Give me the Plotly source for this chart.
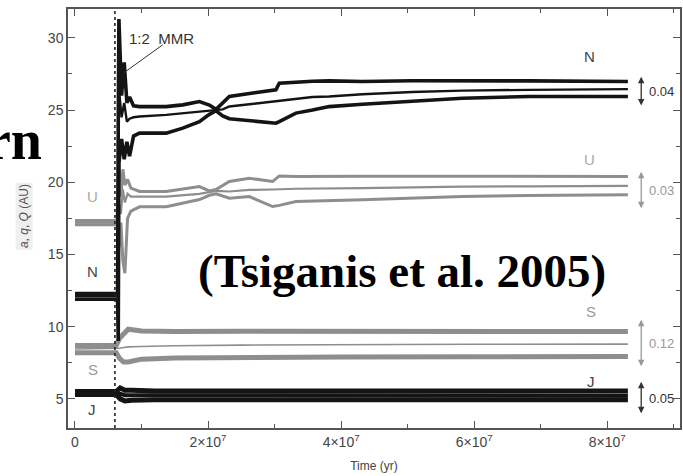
import plotly.graph_objects as go

# Orbital evolution of the giant planets: aphelion Q, semi-major axis a, perihelion q (AU)
N_t = [0, 6.4e6, 6.5e6, 6.6e6, 7.0e6, 7.4e6, 7.8e6, 8.2e6, 8.8e6, 9.7e6, 1.37e7, 1.62e7,
       1.87e7, 2.02e7, 2.12e7, 2.22e7, 2.32e7, 2.7e7, 3.02e7, 3.07e7, 3.32e7, 3.57e7,
       3.82e7, 4.32e7, 5.07e7, 5.82e7, 6.82e7, 8.31e7]
N_Q = [12.3, 12.3, 24.0, 31.3, 26.0, 28.3, 25.5, 25.9, 25.3, 25.24, 25.24, 25.36,
       25.59, 25.35, 25.05, 25.5, 25.94, 26.2, 26.4, 26.86, 26.95, 27.0,
       27.02, 26.98, 27.03, 27.0, 27.02, 26.98]
N_a = [12.1, 12.1, 14.0, 26.5, 24.5, 25.5, 24.2, 24.4, 24.5, 24.55, 24.67, 24.79,
       24.9, 24.95, 25.0, 25.05, 25.25, 25.45, 25.6, 25.65, 25.8, 25.9,
       25.94, 26.1, 26.25, 26.35, 26.4, 26.45]
N_q = [11.9, 11.9, 9.0, 21.3, 23.0, 21.6, 22.8, 21.8, 23.2, 23.4, 23.4, 23.75,
       24.2, 24.7, 24.95, 24.6, 24.4, 24.2, 24.09, 24.2, 24.79, 25.0,
       25.24, 25.4, 25.59, 25.82, 25.94, 25.94]

U_t = [0, 6.3e6, 6.6e6, 6.9e6, 7.2e6, 7.5e6, 7.9e6, 8.4e6, 9.7e6, 1.37e7, 1.87e7,
       2.02e7, 2.12e7, 2.32e7, 2.62e7, 2.97e7, 3.07e7, 3.32e7, 4.32e7, 5.82e7,
       6.82e7, 8.31e7]
U_Q = [17.35, 17.35, 21.3, 19.0, 20.9, 19.8, 20.2, 19.6, 19.36, 19.36, 19.7,
       19.4, 19.5, 20.05, 20.28, 20.05, 20.44, 20.4, 20.42, 20.4, 20.42, 20.4]
U_a = [17.2, 17.2, 18.5, 17.8, 19.5, 18.6, 19.2, 19.0, 19.0, 19.0, 19.2,
       19.3, 19.4, 19.36, 19.47, 19.5, 19.5, 19.55, 19.59, 19.7, 19.72, 19.75]
U_q = [17.05, 17.05, 15.5, 17.2, 14.5, 13.7, 17.5, 18.0, 18.3, 18.3, 18.8,
       19.1, 19.2, 18.9, 19.01, 18.32, 18.4, 18.67, 18.78, 19.01, 19.08, 19.13]

S_t = [0, 6.2e6, 6.7e6, 7.3e6, 8.0e6, 1.0e7, 1.5e7, 2.5e7, 4e7, 6e7, 8.31e7]
S_Q = [8.7, 8.7, 9.2, 9.5, 9.82, 9.7, 9.66, 9.68, 9.66, 9.67, 9.66]
S_a = [8.45, 8.45, 8.5, 8.55, 8.6, 8.62, 8.68, 8.72, 8.76, 8.78, 8.79]
S_q = [8.2, 8.2, 7.8, 7.55, 7.55, 7.75, 7.82, 7.88, 7.9, 7.92, 7.93]

J_t = [0, 6.2e6, 6.8e6, 7.5e6, 8.5e6, 1.2e7, 2.5e7, 5e7, 8.31e7]
J_Q = [5.5, 5.5, 5.75, 5.6, 5.6, 5.55, 5.55, 5.55, 5.55]
J_a = [5.4, 5.4, 5.35, 5.25, 5.25, 5.22, 5.22, 5.22, 5.22]
J_q = [5.3, 5.3, 5.0, 4.85, 4.9, 4.93, 4.93, 4.93, 4.93]

# Eccentricity ranges marked on the right
ecc_labels = ["0.04", "0.03", "0.12", "0.05"]
ecc_top = [27.3, 20.72, 10.47, 6.18]
ecc_bot = [25.22, 18.09, 7.15, 3.89]

x_ticks = [0, 2e7, 4e7, 6e7, 8e7]
x_ticktext = ["0", "2×10<sup>7</sup>", "4×10<sup>7</sup>", "6×10<sup>7</sup>", "8×10<sup>7</sup>"]
y_ticks = [5, 10, 15, 20, 25, 30]

t_instability = 6.0e6

BLACK = "#141414"
GRAY = "#8e8e8e"

fig = go.Figure()

def add_planet(t, Q, a, q, color, wQ, wa, wq):
    for y, w in ((Q, wQ), (a, wa), (q, wq)):
        fig.add_trace(go.Scatter(x=t, y=y, mode="lines",
                                 line=dict(color=color, width=w),
                                 showlegend=False, hoverinfo="skip"))

add_planet(J_t, J_Q, J_a, J_q, BLACK, 5, 4, 5)
add_planet(S_t, S_Q, S_a, S_q, GRAY, 5, 1.6, 5)
add_planet(U_t, U_Q, U_a, U_q, GRAY, 3, 2.2, 3)
add_planet(N_t, N_Q, N_a, N_q, BLACK, 3.6, 2.4, 3.6)

# Epoch of the 1:2 mean-motion resonance crossing
fig.add_shape(type="line", x0=t_instability, x1=t_instability, y0=2.98, y1=32,
              xref="x", yref="y", line=dict(color="#222", width=1.6, dash="dot"))
fig.add_shape(type="line", x0=1.318e7, y0=29.52, x1=7.34e6, y1=27.58,
              xref="x", yref="y", line=dict(color="#333", width=1))

lab_font = "Liberation Sans, Arial"

ann = []
ann.append(dict(x=7.79e6, y=29.93, xref="x", yref="y", text="1:2  MMR",
                showarrow=False, xanchor="left", yanchor="middle",
                font=dict(family=lab_font, size=15, color="#333")))

# Planet labels
for txt, x, y, c in [("N", 7.74e7, 28.68, "#444"), ("U", 7.74e7, 21.55, "#aaa"),
                     ("S", 7.76e7, 11.03, "#9a9a9a"), ("J", 7.76e7, 6.18, "#444"),
                     ("U", 2.7e6, 18.99, "#aaa"), ("N", 2.7e6, 13.8, "#444"),
                     ("S", 2.7e6, 7.01, "#9a9a9a"), ("J", 2.6e6, 4.24, "#444")]:
    ann.append(dict(x=x, y=y, xref="x", yref="y", text=txt, showarrow=False,
                    font=dict(family=lab_font, size=15, color=c)))

# Eccentricity range arrows
ecc_colors = ["#333", "#999", "#999", "#333"]
for lab, yt, yb, c in zip(ecc_labels, ecc_top, ecc_bot, ecc_colors):
    ann.append(dict(x=8.51e7, y=yt, ax=8.51e7, ay=yb, xref="x", yref="y",
                    axref="x", ayref="y", text="", showarrow=True,
                    arrowhead=2, arrowside="end+start", arrowsize=1,
                    arrowwidth=1.3, arrowcolor=c))
    ann.append(dict(x=8.6e7, y=(yt + yb) / 2, xref="x", yref="y", text=lab,
                    showarrow=False, xanchor="left", yanchor="middle",
                    font=dict(family=lab_font, size=13, color=c)))

# Axis title
ann.append(dict(x=-0.0717, y=0.506, xref="paper", yref="paper",
                text="<i>a</i>, <i>q</i>, <i>Q</i> (AU)", textangle=-90,
                showarrow=False, bgcolor="#efefef", xanchor="center", yanchor="middle",
                font=dict(family=lab_font, size=12, color="#555")))

# Slide overlay text
ann.append(dict(x=-0.039, y=0.687, xref="paper", yref="paper", text="<b>rn</b>",
                showarrow=False, xanchor="right", yanchor="middle",
                font=dict(family="Liberation Serif, Times New Roman", size=56, color="#000")))
ann.append(dict(x=0.2085, y=0.3747, xref="paper", yref="paper",
                text="<b>(Tsiganis et al. 2005)</b>",
                showarrow=False, xanchor="left", yanchor="middle",
                font=dict(family="Liberation Serif, Times New Roman", size=47, color="#000")))

axis_common = dict(showline=True, linecolor="#555", linewidth=1.5, mirror="ticks",
                   ticks="inside", ticklen=7, tickwidth=1.2, tickcolor="#555",
                   showgrid=False, zeroline=False,
                   tickfont=dict(family=lab_font, size=14, color="#444"))

fig.update_layout(
    width=683, height=476,
    margin=dict(l=68, r=1, t=9, b=48),
    paper_bgcolor="white", plot_bgcolor="white",
    showlegend=False,
    annotations=ann,
    xaxis=dict(range=[-1.05e6, 9.093e7], tickvals=x_ticks, ticktext=x_ticktext,
               minor=dict(dtick=1e7, tick0=0, ticks="inside", ticklen=4,
                          tickcolor="#555"),
               title=dict(text="Time (yr)", standoff=13,
                          font=dict(family=lab_font, size=12, color="#444")),
               **axis_common),
    yaxis=dict(range=[2.98, 32.0], tickvals=y_ticks,
               minor=dict(dtick=2.5, tick0=0, ticks="inside", ticklen=4,
                          tickcolor="#555"),
               **axis_common),
)

fig.write_html("out.html")
